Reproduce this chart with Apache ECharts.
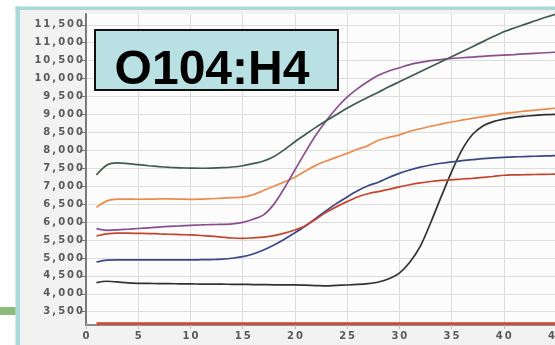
<!DOCTYPE html>
<html>
<head>
<meta charset="utf-8">
<script src="https://cdn.jsdelivr.net/npm/echarts@6/dist/echarts.min.js"></script>
<style>
html,body{margin:0;padding:0;background:#ffffff;}
#wrap{position:relative;width:555px;height:345px;overflow:hidden;}
#bg{position:absolute;left:20px;top:10px;width:535px;height:335px;background:#f2f2f2;}
#plotbg{position:absolute;left:86px;top:14px;width:470px;height:311px;background:#fcfcfc;}
#c{position:absolute;left:0;top:0;width:555px;height:345px;}
</style>
</head>
<body>
<div id="wrap"><div id="bg"></div><div id="plotbg"></div><div id="c"></div></div>
<script>
const cycles = [1,2,3,4,5,6,7,8,9,10,11,12,13,14,15,16,17,18,19,20,21,22,23,24,25,26,27,28,29,30,31,32,33,34,35,36,37,38,39,40,41,42,43,44,45];
const yTicks = [3500,4000,4500,5000,5500,6000,6500,7000,7500,8000,8500,9000,9500,10000,10500,11000,11500];
const titleText = 'O104:H4';

const greenSeries = [7310,7590,7650,7630,7600,7570,7545,7525,7510,7505,7500,7505,7515,7535,7570,7630,7700,7830,8020,8240,8440,8640,8825,9000,9170,9330,9480,9620,9770,9910,10050,10190,10330,10470,10608,10750,10890,11030,11170,11305,11410,11510,11610,11710,11800];
const purpleSeries = [5815,5770,5780,5800,5820,5840,5860,5880,5895,5910,5920,5930,5935,5950,5990,6080,6200,6500,6950,7450,7950,8420,8825,9180,9480,9720,9920,10090,10210,10300,10390,10450,10500,10530,10560,10580,10600,10620,10640,10656,10670,10690,10705,10720,10735];
const orangeSeries = [6410,6590,6640,6640,6635,6640,6645,6645,6640,6633,6640,6650,6665,6680,6695,6760,6880,7000,7120,7250,7420,7580,7700,7810,7915,8030,8130,8280,8360,8430,8530,8600,8670,8730,8790,8840,8890,8940,8980,9030,9060,9090,9120,9150,9175];
const navySeries = [4886,4940,4945,4945,4945,4945,4945,4945,4945,4945,4950,4955,4965,4990,5035,5110,5220,5360,5520,5700,5890,6100,6320,6520,6700,6870,7010,7110,7240,7357,7450,7530,7590,7640,7680,7710,7740,7770,7790,7805,7815,7825,7835,7845,7850];
const redSeries = [5610,5670,5690,5690,5685,5680,5670,5660,5650,5640,5625,5605,5580,5555,5545,5560,5580,5620,5690,5780,5900,6080,6270,6430,6570,6700,6790,6850,6910,6980,7040,7090,7130,7160,7175,7200,7220,7245,7270,7305,7315,7320,7325,7330,7335];
const blackSeries = [4310,4350,4330,4305,4293,4288,4285,4282,4278,4275,4272,4270,4268,4265,4262,4258,4255,4250,4250,4250,4240,4230,4220,4235,4245,4260,4285,4330,4420,4575,4880,5320,5980,6700,7400,8010,8440,8680,8800,8870,8920,8950,8975,8995,9005];
const baselineSeries = [3170,3170,3170,3170,3170,3170,3170,3170,3170,3170,3170,3170,3170,3170,3170,3170,3170,3170,3170,3170,3170,3170,3170,3170,3170,3170,3170,3170,3170,3170,3170,3170,3170,3170,3170,3170,3170,3170,3170,3170,3170,3170,3170,3170,3170];

function pairs(vals){ return cycles.map((c,i)=>[c, vals[i]]); }
function spaced(str){ return String(str).split('').map(ch=>'{c|'+ch+'}').join(''); }
function fmtNum(v){ return v.toLocaleString('en-US'); }

const labelRich = { c: { padding:[0,1,0,1], fontFamily:'DejaVu Sans', fontWeight:'bold', fontSize:10, color:'#5a5a5a' } };

const chart = echarts.init(document.getElementById('c'), null, {renderer:'canvas'});

function mkLine(name, vals, color, w){
  return { name, type:'line', data:pairs(vals), showSymbol:false, symbol:'none', smooth:0.3,
    lineStyle:{color, width:w}, itemStyle:{color}, z:5, clip:true };
}

chart.setOption({
  animation:false,
  backgroundColor:'transparent',
  graphic:[
    {type:'rect', silent:true, shape:{x:15.5,y:6.5,width:545,height:3.5}, style:{fill:'#a9d9d9'}},
    {type:'rect', silent:true, shape:{x:15.5,y:6.5,width:4.5,height:345}, style:{fill:'#a9d9d9'}},
    {type:'rect', silent:true, shape:{x:0,y:307,width:15.5,height:8}, style:{fill:'#8dbb7e'}},
    {type:'rect', z:100, shape:{x:95,y:30,width:243,height:60}, style:{fill:'#b9e0e2', stroke:'#111', lineWidth:2}},
    {type:'text', z:101, x:212, y:71, style:{text:titleText, font:'bold 48px "Liberation Sans", Arial, sans-serif', fill:'#000', align:'center', verticalAlign:'middle'}}
  ],
  grid:{left:86, top:14, width:470, height:311, outerBoundsMode:'none', containLabel:false},
  xAxis:{type:'value', min:0, max:45, interval:5,
    axisLine:{show:true, onZero:false, lineStyle:{color:'#8a8a8a', width:2}},
    axisTick:{show:true, length:4, lineStyle:{color:'#bbbbbb'}},
    axisLabel:{margin:6, formatter:v=>spaced(v), rich:labelRich},
    splitLine:{show:true, lineStyle:{color:'#dddddd', width:1}}
  },
  yAxis:{type:'value', min:3130, max:11800,
    axisLine:{show:true, lineStyle:{color:'#7a7a7a', width:2}},
    axisTick:{show:true, length:6, customValues:yTicks, lineStyle:{color:'#777'}},
    axisLabel:{margin:2, customValues:yTicks, formatter:v=>spaced(fmtNum(v)), rich:labelRich},
    splitLine:{show:true, lineStyle:{color:'#dddddd', width:1}}
  },
  series:[
    mkLine('baseline', baselineSeries, '#d2462f', 2.5),
    mkLine('black', blackSeries, '#2e3332', 1.7),
    mkLine('navy', navySeries, '#3a4887', 1.7),
    mkLine('red', redSeries, '#c4442d', 1.7),
    mkLine('orange', orangeSeries, '#e98c4d', 1.7),
    mkLine('purple', purpleSeries, '#8a4f8e', 1.7),
    mkLine('green', greenSeries, '#3f5c4b', 1.7)
  ]
});
</script>
</body>
</html>
